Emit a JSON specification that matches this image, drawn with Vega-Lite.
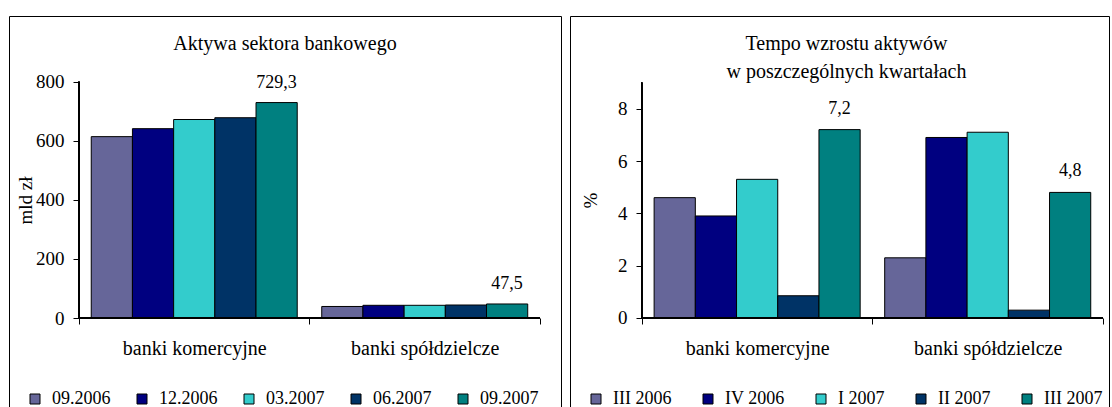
{
  "$schema": "https://vega.github.io/schema/vega-lite/v6.json",
  "padding": {"left": 8, "top": 15, "right": 0, "bottom": 0},
  "background": "white",
  "config": {
    "font": "Liberation Serif",
    "view": {"stroke": "black", "strokeWidth": 1},
    "axis": {"labelFont": "Liberation Serif", "titleFont": "Liberation Serif", "labelColor": "black", "tickColor": "black", "titleColor": "black", "titleFontWeight": "normal", "grid": false},
    "legend": {"labelFont": "Liberation Serif", "labelColor": "black"},
    "title": {"font": "Liberation Serif"},
    "text": {"font": "Liberation Serif"}
  },
  "spacing": 7,
  "resolve": {
    "scale": {"color": "independent", "x": "independent", "y": "independent", "xOffset": "independent"},
    "legend": {"color": "independent"}
  },
  "hconcat": [
    {
      "width": 552,
      "height": 391,
      "title": {"text": "Aktywa sektora bankowego", "font": "Liberation Serif", "fontSize": 20, "fontWeight": "normal", "color": "black", "offset": -38, "frame": "group", "anchor": "middle"},
      "data": {"values": [
        {"cat": "banki komercyjne", "period": "09.2006", "value": 614, "lbl": ""},
        {"cat": "banki komercyjne", "period": "12.2006", "value": 641, "lbl": ""},
        {"cat": "banki komercyjne", "period": "03.2007", "value": 672, "lbl": ""},
        {"cat": "banki komercyjne", "period": "06.2007", "value": 678, "lbl": ""},
        {"cat": "banki komercyjne", "period": "09.2007", "value": 729.3, "lbl": "729,3"},
        {"cat": "banki spółdzielcze", "period": "09.2006", "value": 39, "lbl": ""},
        {"cat": "banki spółdzielcze", "period": "12.2006", "value": 43, "lbl": ""},
        {"cat": "banki spółdzielcze", "period": "03.2007", "value": 43, "lbl": ""},
        {"cat": "banki spółdzielcze", "period": "06.2007", "value": 44, "lbl": ""},
        {"cat": "banki spółdzielcze", "period": "09.2007", "value": 47.5, "lbl": "47,5"}
      ]},
      "encoding": {
        "x": {"field": "cat", "type": "nominal", "sort": ["banki komercyjne", "banki spółdzielcze"],
          "scale": {"paddingInner": 0, "paddingOuter": 0.1974, "align": 0.769},
          "axis": {"title": null, "offset": -89, "domain": false, "ticks": true, "tickBand": "extent", "tickSize": 6, "labelFont": "Liberation Serif", "labelFontSize": 20, "labelPadding": 14, "labelAngle": 0}},
        "y": {"field": "value", "type": "quantitative",
          "scale": {"domain": [-301.3, 1022.4], "nice": false, "zero": false},
          "axis": {"title": "mld zł", "values": [0, 200, 400, 600, 800], "offset": -70, "domain": false, "tickSize": 6, "labelFont": "Liberation Serif", "labelFontSize": 19, "labelPadding": 9, "titleFont": "Liberation Serif", "titleFontSize": 19, "titleX": -54, "titleY": 184, "titleAngle": -90, "titleBaseline": "middle", "titleAlign": "center"}}
      },
      "layer": [
        {
          "mark": {"type": "bar", "stroke": "black", "strokeWidth": 1},
          "encoding": {
            "xOffset": {"field": "period", "type": "nominal", "sort": ["09.2006", "12.2006", "03.2007", "06.2007", "09.2007"], "scale": {"paddingInner": 0, "paddingOuter": 0.2975}},
            "color": {"field": "period", "type": "nominal",
              "scale": {"domain": ["09.2006", "12.2006", "03.2007", "06.2007", "09.2007"], "range": ["#666699", "#000080", "#33CCCC", "#003366", "#008080"]},
              "legend": {"orient": "none", "legendX": 17, "legendY": 374, "direction": "horizontal", "columns": 5, "title": null, "symbolType": "square", "symbolSize": 100, "symbolStrokeColor": "black", "symbolStrokeWidth": 1, "symbolOpacity": 1, "labelFont": "Liberation Serif", "labelFontSize": 18, "labelOffset": 8, "columnPadding": 22, "gridAlign": "none", "labelLimit": 200}}
          }
        },
        {
          "mark": {"type": "text", "baseline": "middle", "dy": -20, "font": "Liberation Serif", "fontSize": 18, "color": "black"},
          "encoding": {
            "xOffset": {"field": "period", "type": "nominal", "sort": ["09.2006", "12.2006", "03.2007", "06.2007", "09.2007"]},
            "text": {"field": "lbl"}
          }
        },
        {
          "mark": {"type": "rule", "color": "black", "strokeWidth": 1},
          "encoding": {
            "x": {"datum": "banki komercyjne", "bandPosition": 0},
            "y": {"datum": 0},
            "y2": {"datum": 800}
          }
        },
        {
          "mark": {"type": "bar", "stroke": "black", "strokeWidth": 1, "fill": "black"},
          "encoding": {
            "y": {"datum": 0},
            "y2": {"datum": 0}
          }
        }
      ]
    },
    {
      "width": 539,
      "height": 391,
      "title": {"text": ["Tempo wzrostu aktywów", "w poszczególnych kwartałach"], "font": "Liberation Serif", "lineHeight": 28, "fontSize": 20, "fontWeight": "normal", "color": "black", "offset": -66, "frame": "group", "anchor": "middle", "dx": 7},
      "data": {"values": [
        {"cat": "banki komercyjne", "period": "III 2006", "value": 4.6, "lbl": ""},
        {"cat": "banki komercyjne", "period": "IV 2006", "value": 3.9, "lbl": ""},
        {"cat": "banki komercyjne", "period": "I 2007", "value": 5.3, "lbl": ""},
        {"cat": "banki komercyjne", "period": "II 2007", "value": 0.85, "lbl": ""},
        {"cat": "banki komercyjne", "period": "III 2007", "value": 7.2, "lbl": "7,2"},
        {"cat": "banki spółdzielcze", "period": "III 2006", "value": 2.3, "lbl": ""},
        {"cat": "banki spółdzielcze", "period": "IV 2006", "value": 6.9, "lbl": ""},
        {"cat": "banki spółdzielcze", "period": "I 2007", "value": 7.1, "lbl": ""},
        {"cat": "banki spółdzielcze", "period": "II 2007", "value": 0.3, "lbl": ""},
        {"cat": "banki spółdzielcze", "period": "III 2007", "value": 4.8, "lbl": "4,8"}
      ]},
      "encoding": {
        "x": {"field": "cat", "type": "nominal", "sort": ["banki komercyjne", "banki spółdzielcze"],
          "scale": {"paddingInner": 0, "paddingOuter": 0.1688, "align": 0.923},
          "axis": {"title": null, "offset": -89, "domain": false, "ticks": true, "tickBand": "extent", "tickSize": 6, "labelFont": "Liberation Serif", "labelFontSize": 20, "labelPadding": 14, "labelAngle": 0}},
        "y": {"field": "value", "type": "quantitative",
          "scale": {"domain": [-3.402, 11.543], "nice": false, "zero": false},
          "axis": {"title": "%", "values": [0, 2, 4, 6, 8], "offset": -72, "domain": false, "tickSize": 6, "labelFont": "Liberation Serif", "labelFontSize": 19, "labelPadding": 9, "titleFont": "Liberation Serif", "titleFontSize": 19, "titleX": -52, "titleY": 184, "titleAngle": -90, "titleBaseline": "middle", "titleAlign": "center"}}
      },
      "layer": [
        {
          "mark": {"type": "bar", "stroke": "black", "strokeWidth": 1},
          "encoding": {
            "xOffset": {"field": "period", "type": "nominal", "sort": ["III 2006", "IV 2006", "I 2007", "II 2007", "III 2007"], "scale": {"paddingInner": 0, "paddingOuter": 0.2975}},
            "color": {"field": "period", "type": "nominal",
              "scale": {"domain": ["III 2006", "IV 2006", "I 2007", "II 2007", "III 2007"], "range": ["#666699", "#000080", "#33CCCC", "#003366", "#008080"]},
              "legend": {"orient": "none", "legendX": 17, "legendY": 374, "direction": "horizontal", "columns": 5, "title": null, "symbolType": "square", "symbolSize": 100, "symbolStrokeColor": "black", "symbolStrokeWidth": 1, "symbolOpacity": 1, "labelFont": "Liberation Serif", "labelFontSize": 18, "labelOffset": 8, "columnPadding": 27, "gridAlign": "none", "labelLimit": 200}}
          }
        },
        {
          "mark": {"type": "text", "baseline": "middle", "dy": -21, "font": "Liberation Serif", "fontSize": 18, "color": "black"},
          "encoding": {
            "xOffset": {"field": "period", "type": "nominal", "sort": ["III 2006", "IV 2006", "I 2007", "II 2007", "III 2007"]},
            "text": {"field": "lbl"}
          }
        },
        {
          "mark": {"type": "rule", "color": "black", "strokeWidth": 1},
          "encoding": {
            "x": {"datum": "banki komercyjne", "bandPosition": 0},
            "y": {"datum": 0},
            "y2": {"datum": 9}
          }
        },
        {
          "mark": {"type": "bar", "stroke": "black", "strokeWidth": 1, "fill": "black"},
          "encoding": {
            "y": {"datum": 0},
            "y2": {"datum": 0}
          }
        }
      ]
    }
  ]
}
